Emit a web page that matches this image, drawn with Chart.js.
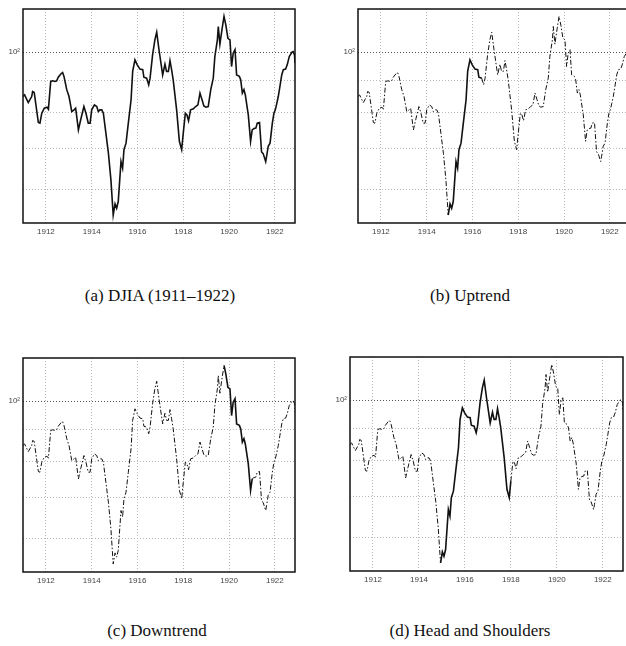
<!DOCTYPE html>
<html>
<head>
<meta charset="utf-8">
<script src="https://cdn.jsdelivr.net/npm/chart.js@4/dist/chart.umd.min.js"></script>
<style>
  body { margin: 0; width: 626px; height: 646px; overflow: hidden; background: #fff; position: relative; }
  canvas { position: absolute; }
  .cap { position: absolute; width: 320px; text-align: center; font-family: "Liberation Serif", serif; font-size: 17px; line-height: 20px; color: #111; }
</style>
</head>
<body>
<canvas id="panel-a" width="300" height="245" style="left:0;top:0"></canvas>
<canvas id="panel-b" width="300" height="245" style="left:335px;top:0"></canvas>
<canvas id="panel-c" width="300" height="245" style="left:0;top:349px"></canvas>
<canvas id="panel-d" width="301" height="245" style="left:327px;top:348px"></canvas>
<div class="cap" style="left:0;top:286px">(a) DJIA (1911–1922)</div>
<div class="cap" style="left:310px;top:286px">(b) Uptrend</div>
<div class="cap" style="left:-3px;top:621px">(c) Downtrend</div>
<div class="cap" style="left:310px;top:621px">(d) Head and Shoulders</div>
<script>
// DJIA, decimal year / index level
const years = [
  1911.00, 1911.07, 1911.23, 1911.38, 1911.42, 1911.49, 1911.67, 1911.74, 1911.82, 1911.93,
  1912.05, 1912.11, 1912.21, 1912.30, 1912.40, 1912.47, 1912.54, 1912.66, 1912.73, 1912.79,
  1912.91, 1913.01, 1913.13, 1913.23, 1913.30, 1913.42, 1913.52, 1913.66, 1913.75, 1913.85,
  1913.93, 1914.00, 1914.12, 1914.22, 1914.29, 1914.36, 1914.44, 1914.51, 1914.62, 1914.73,
  1914.84, 1914.94, 1915.02, 1915.09, 1915.16, 1915.28, 1915.35, 1915.41, 1915.50, 1915.60,
  1915.72, 1915.79, 1915.89, 1915.99, 1916.11, 1916.23, 1916.28, 1916.40, 1916.49, 1916.55,
  1916.66, 1916.76, 1916.84, 1916.94, 1917.10, 1917.20, 1917.27, 1917.35, 1917.42, 1917.49,
  1917.56, 1917.71, 1917.83, 1917.93, 1918.00, 1918.09, 1918.16, 1918.23, 1918.32, 1918.44,
  1918.54, 1918.64, 1918.73, 1918.82, 1918.90, 1918.99, 1919.09, 1919.20, 1919.31, 1919.38,
  1919.49, 1919.53, 1919.60, 1919.70, 1919.78, 1919.86, 1919.95, 1920.04, 1920.11, 1920.18,
  1920.26, 1920.33, 1920.45, 1920.51, 1920.58, 1920.65, 1920.71, 1920.84, 1920.94, 1921.01,
  1921.09, 1921.17, 1921.23, 1921.33, 1921.42, 1921.49, 1921.60, 1921.64, 1921.71, 1921.79,
  1921.89, 1921.96, 1922.02, 1922.08, 1922.15, 1922.22, 1922.30, 1922.37, 1922.47, 1922.54,
  1922.63, 1922.75, 1922.80, 1922.86, 1922.88
];
const djia = [
  84.8, 85.3, 82.9, 84.8, 86.4, 86.1, 77.0, 76.8, 79.7, 81.2,
  81.5, 80.9, 89.7, 89.9, 89.7, 89.9, 91.1, 92.3, 92.7, 91.4,
  87.0, 84.8, 80.2, 80.7, 81.2, 74.9, 77.8, 81.7, 79.7, 76.8,
  76.8, 80.7, 82.2, 81.7, 80.2, 80.7, 80.7, 79.7, 74.0, 68.7,
  62.2, 54.6, 56.9, 56.0, 57.4, 66.6, 65.0, 69.6, 71.3, 76.8,
  83.8, 93.1, 97.2, 95.4, 93.9, 93.7, 91.1, 90.8, 88.6, 90.8,
  99.0, 104.7, 107.7, 100.9, 91.9, 95.6, 93.1, 93.1, 96.9, 93.7,
  90.2, 80.7, 71.8, 69.6, 74.0, 79.7, 79.2, 77.5, 80.7, 81.0,
  81.7, 82.2, 85.9, 83.8, 81.9, 81.5, 81.7, 87.0, 90.8, 98.4,
  104.7, 110.0, 103.0, 109.3, 114.2, 110.6, 105.3, 104.7, 94.8, 99.6,
  100.9, 91.9, 91.4, 90.2, 85.9, 87.0, 85.3, 79.2, 71.8, 74.9,
  75.3, 75.4, 76.8, 77.0, 69.0, 68.6, 66.6, 67.9, 70.5, 71.3,
  76.8, 79.7, 80.7, 82.5, 84.8, 88.0, 91.9, 93.7, 93.9, 95.4,
  98.4, 100.0, 100.2, 99.0, 96.0
];
const xTicks = [1912, 1914, 1916, 1918, 1920, 1922];
const yTicks = [60, 70, 80, 90, 100];

// stretch drawn solid in each panel, the rest dash-dot
const uptrend = [1914.93, 1916.45];
const downtrend = [1919.77, 1921.01];
const headShoulders = [1914.93, 1918.01];

const frame = {
  id: "frame",
  afterDatasetsDraw(chart) {
    const a = chart.chartArea;
    const c = chart.ctx;
    c.save();
    c.strokeStyle = "#111";
    c.lineWidth = 1.5;
    c.strokeRect(a.left, a.top, a.right - a.left, a.bottom - a.top);
    c.restore();
  },
};

function makePanel(id, solid) {
  const inSolid = (ctx) =>
    solid == null ||
    (ctx.p0.parsed.x >= solid[0] && ctx.p1.parsed.x <= solid[1]);
  new Chart(document.getElementById(id), {
    type: "line",
    data: {
      datasets: [
        {
          data: years.map((y, i) => ({ x: y, y: djia[i] })),
          borderColor: "#111",
          borderWidth: 1.5,
          pointRadius: 0,
          tension: 0,
          fill: false,
          segment: {
            borderDash: (ctx) => (inSolid(ctx) ? [] : [5, 2, 1.5, 2]),
            borderWidth: (ctx) => (inSolid(ctx) ? 1.6 : 1),
          },
        },
      ],
    },
    options: {
      responsive: false,
      animation: false,
      layout: { padding: { top: 9, right: 5, left: 0, bottom: 0 } },
      scales: {
        x: {
          type: "linear",
          min: 1911,
          max: 1922.88,
          afterBuildTicks: (s) => { s.ticks = xTicks.map((v) => ({ value: v })); },
          afterFit: (s) => { s.height = 22; },
          grid: { color: "#b8b8b8", lineWidth: 1, drawTicks: false },
          border: { display: false, dash: [1, 2] },
          ticks: {
            padding: 4,
            color: "#444",
            font: { family: "Liberation Sans", size: 8 },
            maxRotation: 0,
            autoSkip: false,
            callback: (v) => String(v),
          },
        },
        y: {
          type: "logarithmic",
          min: 53,
          max: 117.4,
          afterBuildTicks: (s) => { s.ticks = yTicks.map((v) => ({ value: v })); },
          afterFit: (s) => { s.width = 23; },
          grid: {
            color: (ctx) => (ctx.tick && ctx.tick.value === 100 ? "#555" : "#b8b8b8"),
            lineWidth: 1,
            drawTicks: false,
          },
          border: { display: false, dash: [1, 2] },
          ticks: {
            padding: 3,
            color: "#444",
            font: { family: "Liberation Sans", size: 8 },
            autoSkip: false,
            callback: (v) => (v === 100 ? "10²" : ""),
          },
        },
      },
      plugins: {
        legend: { display: false },
        tooltip: { enabled: false },
      },
    },
    plugins: [frame],
  });
}

makePanel("panel-a", null);
makePanel("panel-b", uptrend);
makePanel("panel-c", downtrend);
makePanel("panel-d", headShoulders);
</script>
</body>
</html>
